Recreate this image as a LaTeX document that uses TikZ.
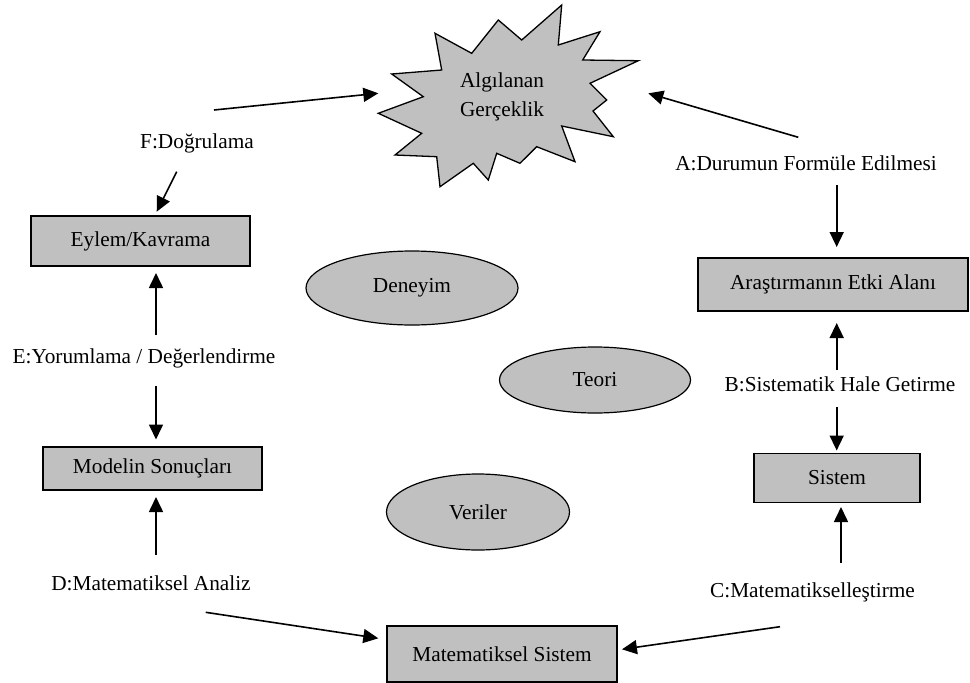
\documentclass[tikz,border=0pt]{standalone}
\usepackage{fontspec}
\setmainfont{Liberation Serif}
\usetikzlibrary{arrows.meta,shapes.geometric}
\definecolor{boxgray}{RGB}{192,192,192}
\tikzset{
  box/.style={draw=black,fill=boxgray,line width=1.5pt,inner sep=0pt,outer sep=0pt,font=\fontsize{21.3}{26}\selectfont},
  oval/.style={ellipse,draw=black,fill=boxgray,line width=1.2pt,inner sep=0pt,outer sep=0pt,font=\fontsize{21.3}{26}\selectfont},
  lbl/.style={inner sep=0pt,font=\fontsize{21.3}{26}\selectfont},
  arr/.style={line width=1.6pt,-{Triangle[length=15pt,width=14pt]}}
}
\begin{document}
\begin{tikzpicture}[x=1pt,y=-1pt]
\useasboundingbox (0,0) rectangle (970,683);
% starburst
\draw[line width=1.3pt,fill=boxgray,line join=miter]
 (561.7,5) -- (558.3,45) -- (600,31.7) -- (582.7,60) -- (638.3,60.7) -- (590,83.3)
 -- (606.7,100) -- (593,111) -- (613.3,136.7) -- (561.7,126) -- (575,161.7)
 -- (536.7,146.7) -- (520,163.3) -- (496.7,153.3) -- (488.3,180) -- (473.3,163.3)
 -- (440,186.7) -- (436.7,156.7) -- (395,155) -- (421.7,133.3) -- (378.3,113.3)
 -- (423.3,96.7) -- (391.7,74) -- (441.7,70) -- (435,33.3) -- (471.7,53.3)
 -- (498.3,20) -- (521.7,40) -- cycle;
\node[lbl,align=center,font=\fontsize{21.3}{29}\selectfont] (alg) at (502,97) {Algılanan\\Gerçeklik};

% boxes
\node[box,minimum width=219pt,minimum height=50pt] (eylem) at (140.5,241) {Eylem/Kavrama};
\node[box,minimum width=270pt,minimum height=53pt] (arast) at (833,284.5) {Araştırmanın Etki Alanı};
\node[box,minimum width=166pt,minimum height=49pt] (sistem) at (837,478) {Sistem};
\node[box,minimum width=219pt,minimum height=43pt] (model) at (152.5,468.5) {Modelin Sonuçları};
\node[box,minimum width=230pt,minimum height=56pt] (matsis) at (502,654) {Matematiksel Sistem};

% ellipses
\node[oval,minimum width=212pt,minimum height=74pt] (deneyim) at (412,288) {Deneyim};
\node[oval,minimum width=191pt,minimum height=66pt] (teori) at (595,380) {Teori};
\node[oval,minimum width=183pt,minimum height=76pt] (veriler) at (478,512) {Veriler};

% labels
\node[lbl] (F) at (197,143) {F:Doğrulama};
\node[lbl] (A) at (806,163) {A:Durumun Formüle Edilmesi};
\node[lbl] (B) at (840,384) {B:Sistematik Hale Getirme};
\node[lbl] (C) at (812.5,592) {C:Matematikselleştirme};
\node[lbl] (D) at (151,583) {D:Matematiksel Analiz};
\node[lbl] (E) at (144,358) {E:Yorumlama / Değerlendirme};

% connector end points
\coordinate (fS) at (214,110);
\coordinate (fT) at (378.3,93.3);
\coordinate (fdS) at (176.7,171.7);
\coordinate (fdT) at (156.7,211.7);
\coordinate (aS) at (798.3,137.3);
\coordinate (aT) at (648.3,93.3);
\coordinate (adS) at (836.7,185);
\coordinate (buS) at (836.7,370);
\coordinate (bdS) at (836.7,407.3);
\coordinate (cuS) at (841,562.7);
\coordinate (clS) at (780,626.7);
\coordinate (duS) at (156,555);
\coordinate (drS) at (205.7,612.3);
\coordinate (drT) at (378.3,638.3);
\coordinate (edS) at (156,385.7);
\coordinate (euS) at (156,335);

% connectors
\draw[arr] (fS) -- (fT);
\draw[arr] (fdS) -- (fdT);
\draw[arr] (aS) -- (aT);
\draw[arr,shorten >=11pt] (adS) -- (adS |- arast.north);
\draw[arr,shorten >=12pt] (buS) -- (buS |- arast.south);
\draw[arr,shorten >=3pt] (bdS) -- (bdS |- sistem.north);
\draw[arr,shorten >=4.5pt] (cuS) -- (cuS |- sistem.south);
\draw[arr,shorten >=5pt] (clS) -- (matsis.east |- 0,650);
\draw[arr,shorten >=7pt] (duS) -- (duS |- model.south);
\draw[arr] (drS) -- (drT);
\draw[arr,shorten >=7.5pt] (edS) -- (edS |- model.north);
\draw[arr,shorten >=7pt] (euS) -- (euS |- eylem.south);
\end{tikzpicture}
\end{document}
